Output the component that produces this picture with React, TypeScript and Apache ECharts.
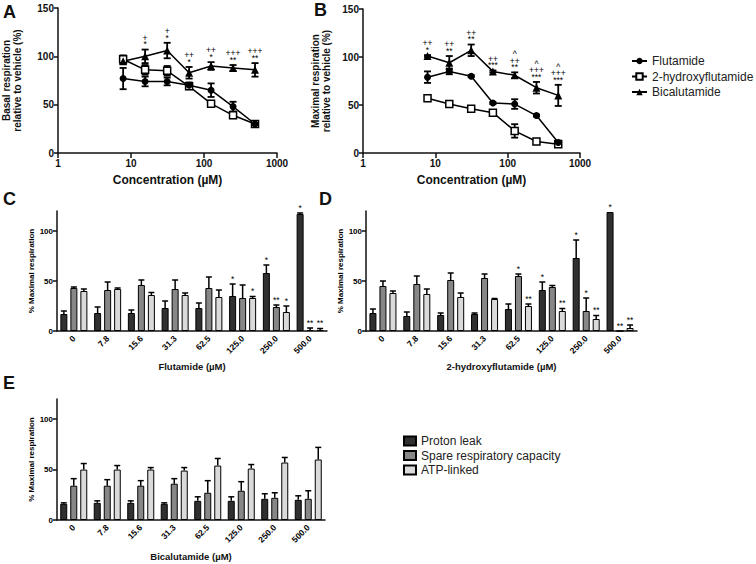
import React, { useEffect, useRef } from 'react';
import * as echarts from 'echarts';

const FONT = '"Liberation Sans", Arial, Helvetica, sans-serif';
const INK = '#111111';

// ---- Panels A / B: concentration-response ----
const concentrations = [7.8, 15.6, 31.3, 62.5, 125, 250, 500];
const drugNames = ['Flutamide', '2-hydroxyflutamide', 'Bicalutamide'];

const basalFlutamide = [77, 74, 74, 70, 65, 48, 30];
const basalFlutamideErr = [11, 5, 4, 3, 7, 5, 3];
const basalHydroxy = [97, 86, 85, 69, 51, 39, 30];
const basalHydroxyErr = [4, 5, 5, 3, 3, 3, 3];
const basalBical = [95, 100, 106, 83, 90, 88, 86];
const basalBicalErr = [3, 7, 8, 6, 4, 3, 7];
const basalMarks = ['', '+\n*', '+\n*', '++\n*', '++\n*', '+++\n**', '+++\n**'];

const maxFlutamide = [79, 85, 80, 52, 51, 39, 11];
const maxFlutamideErr = [6, 3, 1, 1, 5, 1, 2];
const maxHydroxy = [57, 51, 46, 42, 23, 12, 9];
const maxHydroxyErr = [3, 1, 3, 1, 7, 1, 1];
const maxBical = [101, 94, 107, 85, 81, 68, 60];
const maxBicalErr = [1, 7, 6, 1, 3, 6, 11];
const maxMarks = ['++\n*', '++\n**', '++\n**', '++\n***', '^\n++\n**', '^\n+++\n***', '^\n+++\n***'];

// ---- Panels C / D / E: bar charts ----
const doseLabels = ['0', '7.8', '15.6', '31.3', '62.5', '125.0', '250.0', '500.0'];
const componentNames = ['Proton leak', 'Spare respiratory capacity', 'ATP-linked'];

const flutPL = [17, 18, 18, 23, 23, 35, 58, 117];
const flutPLErr = [3, 6, 3, 7, 5, 12, 8, 1];
const flutSpare = [43, 41, 46, 42, 43, 33, 24, 1];
const flutSpareErr = [1, 8, 5, 9, 11, 13, 2, 2];
const flutATP = [40, 42, 36, 36, 34, 33, 19, 1];
const flutATPErr = [2, 1, 2.5, 2, 7, 1.5, 6, 1.5];
const flutPLMarks = ['', '', '', '', '', '*', '*', '*'];
const flutSpareMarks = ['', '', '', '', '', '', '**', '**'];
const flutATPMarks = ['', '', '', '', '', '*', '*', '**'];

const hydPL = [18, 15, 16, 17, 22, 41, 73, 119];
const hydPLErr = [4, 4, 2, 1, 5, 8, 18, 0];
const hydSpare = [45, 47, 51, 53, 55, 44, 20, 0];
const hydSpareErr = [5, 8, 7, 4, 2, 1.5, 13, 0];
const hydATP = [38, 37, 34, 32, 25, 20, 12, 3];
const hydATPErr = [2, 5, 4, 0.5, 2, 2.5, 3.5, 3];
const hydPLMarks = ['', '', '', '', '', '*', '*', '*'];
const hydSpareMarks = ['', '', '', '', '*', '', '*', '**'];
const hydATPMarks = ['', '', '', '', '**', '**', '**', '**'];

const bicPL = [16, 17, 17, 16, 19, 19, 21, 20];
const bicPLErr = [1, 2, 2, 1, 4, 4, 5, 4];
const bicSpare = [34, 34, 34, 36, 27, 29, 22, 21];
const bicSpareErr = [7, 6, 5, 5, 12, 9, 5, 8];
const bicATP = [50, 50, 50, 49, 54, 51, 57, 60];
const bicATPErr = [6, 4, 2, 3, 7, 4, 5, 12];
const noMarks = ['', '', '', '', '', '', '', ''];

const barColors = ['#303030', '#878787', '#dadada'];

function lineErrSeries(gx: number, vals: number[], errs: number[]) {
  return {
    type: 'custom',
    xAxisIndex: gx,
    yAxisIndex: gx,
    z: 3,
    silent: true,
    clip: false,
    data: concentrations.map((c, i) => [c, vals[i] - errs[i], vals[i] + errs[i]]),
    renderItem: (params: any, api: any) => {
      const x = api.value(0);
      const p1 = api.coord([x, api.value(1)]);
      const p2 = api.coord([x, api.value(2)]);
      const w = 3.5;
      const st = { stroke: '#000', lineWidth: 1.8 };
      return {
        type: 'group',
        children: [
          { type: 'line', shape: { x1: p1[0], y1: p1[1], x2: p2[0], y2: p2[1] }, style: st },
          { type: 'line', shape: { x1: p1[0] - w, y1: p1[1], x2: p1[0] + w, y2: p1[1] }, style: st },
          { type: 'line', shape: { x1: p2[0] - w, y1: p2[1], x2: p2[0] + w, y2: p2[1] }, style: st },
        ],
      };
    },
  };
}

function markSeries(gx: number, vals: number[], errs: number[], marks: string[]) {
  return {
    type: 'custom',
    xAxisIndex: gx,
    yAxisIndex: gx,
    z: 6,
    silent: true,
    clip: false,
    itemStyle: { color: '#000' },
    data: concentrations.map((c, i) => [c, vals[i] + errs[i], i]),
    renderItem: (params: any, api: any) => {
      const p = api.coord([api.value(0), api.value(1)]);
      const t = marks[params.dataIndex];
      if (!t) return null;
      return {
        type: 'text',
        x: p[0],
        y: p[1] - 2,
        style: {
          text: t,
          fontSize: 8.5,
          lineHeight: 6.5,
          fontFamily: FONT,
          fill: '#000',
          align: 'center',
          verticalAlign: 'bottom',
        },
      };
    },
  };
}

function lineSeries(gx: number, name: string, vals: number[], kind: number) {
  const symbol = kind === 0 ? 'circle' : kind === 1 ? 'rect' : 'triangle';
  return {
    type: 'line',
    name,
    xAxisIndex: gx,
    yAxisIndex: gx,
    z: 4,
    data: concentrations.map((c, i) => [c, vals[i]]),
    symbol,
    symbolSize: kind === 2 ? 8 : 7,
    showAllSymbol: true,
    lineStyle: { color: '#000', width: 1.5 },
    itemStyle:
      kind === 1
        ? { color: '#ffffff', borderColor: '#000', borderWidth: 1.5 }
        : { color: '#000', borderColor: '#000', borderWidth: 0 },
  };
}

function barSeries(gx: number, k: number, vals: number[]) {
  return {
    type: 'bar',
    name: componentNames[k],
    xAxisIndex: gx,
    yAxisIndex: gx,
    data: vals,
    barWidth: 7,
    barGap: '43%',
    z: 2,
    itemStyle: { color: barColors[k], borderColor: '#000', borderWidth: 1 },
  };
}

function barErrSeries(gx: number, offset: number, vals: number[], errs: number[], marks: string[]) {
  return {
    type: 'custom',
    xAxisIndex: gx,
    yAxisIndex: gx,
    z: 5,
    silent: true,
    clip: false,
    itemStyle: { color: '#000' },
    data: vals.map((v, i) => [i, v, errs[i]]),
    renderItem: (params: any, api: any) => {
      const i = api.value(0);
      const v = api.value(1);
      const e = api.value(2);
      const pb = api.coord([i, v]);
      const pt = api.coord([i, v + e]);
      const x = pb[0] + offset;
      const st = { stroke: '#000', lineWidth: 1.5 };
      const children: any[] = [];
      if (e > 0) {
        children.push({ type: 'line', shape: { x1: x, y1: pb[1], x2: x, y2: pt[1] }, style: st });
        children.push({ type: 'line', shape: { x1: x - 3, y1: pt[1], x2: x + 3, y2: pt[1] }, style: st });
      }
      const t = marks[params.dataIndex];
      if (t) {
        children.push({
          type: 'text',
          x,
          y: pt[1] - 1,
          style: {
            text: t,
            fontSize: 8.5,
            fontFamily: FONT,
            fill: '#000',
            align: 'center',
            verticalAlign: 'bottom',
          },
        });
      }
      return { type: 'group', children };
    },
  };
}

const axisLineStyle = { color: INK, width: 1.5 };

function logXAxis(gi: number) {
  return {
    type: 'log',
    logBase: 10,
    min: 1,
    max: 1000,
    gridIndex: gi,
    axisLine: { show: true, onZero: false, lineStyle: axisLineStyle },
    axisTick: { show: true, length: 5, lineStyle: axisLineStyle },
    minorTick: { show: false },
    splitLine: { show: false },
    axisLabel: {
      fontSize: 10,
      fontWeight: 'bold',
      color: INK,
      fontFamily: FONT,
      margin: 5,
      formatter: (v: number) => String(Math.round(v)),
    },
    name: 'Concentration (µM)',
    nameLocation: 'middle',
    nameGap: 21,
    nameTextStyle: { fontSize: 12, fontWeight: 'bold', color: INK, fontFamily: FONT },
  };
}

function pctYAxis(gi: number, name: string, gap: number) {
  return {
    type: 'value',
    min: 0,
    max: 150,
    interval: 50,
    gridIndex: gi,
    axisLine: { show: true, lineStyle: axisLineStyle },
    axisTick: { show: true, length: 4, lineStyle: axisLineStyle },
    splitLine: { show: false },
    axisLabel: { fontSize: 10, fontWeight: 'bold', color: INK, fontFamily: FONT, margin: 4 },
    name,
    nameLocation: 'middle',
    nameRotate: 90,
    nameGap: gap,
    nameTextStyle: { fontSize: 10, fontWeight: 'bold', color: INK, fontFamily: FONT, lineHeight: 11 },
  };
}

function catXAxis(gi: number, name: string, gap: number) {
  return {
    type: 'category',
    data: doseLabels,
    gridIndex: gi,
    axisLine: { show: true, lineStyle: axisLineStyle },
    axisTick: { show: false },
    splitLine: { show: false },
    axisLabel: {
      rotate: 45,
      fontSize: 8.5,
      fontWeight: 'bold',
      color: '#000',
      fontFamily: FONT,
      margin: 6,
      interval: 0,
    },
    name,
    nameLocation: 'middle',
    nameGap: gap,
    nameTextStyle: { fontSize: 9.5, fontWeight: 'bold', color: INK, fontFamily: FONT },
  };
}

function barYAxis(gi: number) {
  return {
    type: 'value',
    min: 0,
    max: 120,
    interval: 50,
    gridIndex: gi,
    axisLine: { show: true, lineStyle: axisLineStyle },
    axisTick: { show: true, length: 4, lineStyle: axisLineStyle, customValues: [0, 50, 100] },
    splitLine: { show: false },
    axisLabel: {
      fontSize: 8,
      fontWeight: 'bold',
      color: '#000',
      fontFamily: FONT,
      margin: 4,
      customValues: [0, 50, 100],
    },
    name: '% Maximal respiration',
    nameLocation: 'middle',
    nameRotate: 90,
    nameGap: 22,
    nameTextStyle: { fontSize: 8, fontWeight: 'bold', color: '#000', fontFamily: FONT },
  };
}

function letter(t: string, x: number, y: number) {
  return {
    type: 'text',
    left: x,
    top: y,
    style: { text: t, fontSize: 18, fontWeight: 'bold', fontFamily: FONT, fill: INK },
  };
}

function buildOption() {
  const series: any[] = [];
  // Panel A (hollow squares drawn first so the filled markers sit on top, as in the figure)
  series.push(lineErrSeries(0, basalHydroxy, basalHydroxyErr));
  series.push(lineErrSeries(0, basalFlutamide, basalFlutamideErr));
  series.push(lineErrSeries(0, basalBical, basalBicalErr));
  series.push(lineSeries(0, drugNames[1], basalHydroxy, 1));
  series.push(lineSeries(0, drugNames[0], basalFlutamide, 0));
  series.push(lineSeries(0, drugNames[2], basalBical, 2));
  series.push(markSeries(0, basalBical, basalBicalErr, basalMarks));
  // Panel B
  series.push(lineErrSeries(1, maxHydroxy, maxHydroxyErr));
  series.push(lineErrSeries(1, maxFlutamide, maxFlutamideErr));
  series.push(lineErrSeries(1, maxBical, maxBicalErr));
  series.push(lineSeries(1, drugNames[1], maxHydroxy, 1));
  series.push(lineSeries(1, drugNames[0], maxFlutamide, 0));
  series.push(lineSeries(1, drugNames[2], maxBical, 2));
  series.push(markSeries(1, maxBical, maxBicalErr, maxMarks));

  const barPanels = [
    { g: 2, v: [flutPL, flutSpare, flutATP], e: [flutPLErr, flutSpareErr, flutATPErr], m: [flutPLMarks, flutSpareMarks, flutATPMarks] },
    { g: 3, v: [hydPL, hydSpare, hydATP], e: [hydPLErr, hydSpareErr, hydATPErr], m: [hydPLMarks, hydSpareMarks, hydATPMarks] },
    { g: 4, v: [bicPL, bicSpare, bicATP], e: [bicPLErr, bicSpareErr, bicATPErr], m: [noMarks, noMarks, noMarks] },
  ];
  const offsets = [-10, 0, 10];
  barPanels.forEach((p) => {
    for (let k = 0; k < 3; k++) series.push(barSeries(p.g, k, p.v[k]));
    for (let k = 0; k < 3; k++) series.push(barErrSeries(p.g, offsets[k], p.v[k], p.e[k], p.m[k]));
  });

  return {
    animation: false,
    backgroundColor: '#ffffff',
    textStyle: { fontFamily: FONT },
    grid: [
      { left: 58, top: 8, width: 219, height: 145 },
      { left: 363, top: 9, width: 217, height: 144 },
      { left: 57, top: 211, width: 270, height: 120 },
      { left: 366, top: 211, width: 271, height: 120 },
      { left: 57, top: 399, width: 268, height: 121 },
    ],
    xAxis: [
      logXAxis(0),
      logXAxis(1),
      catXAxis(2, 'Flutamide (µM)', 30),
      catXAxis(3, '2-hydroxyflutamide (µM)', 30),
      catXAxis(4, 'Bicalutamide (µM)', 31),
    ],
    yAxis: [
      pctYAxis(0, 'Basal respiration\nrelative to vehicle (%)', 35),
      pctYAxis(1, 'Maximal respiration\nrelative to vehicle (%)', 31),
      barYAxis(2),
      barYAxis(3),
      barYAxis(4),
    ],
    legend: [
      {
        data: drugNames,
        orient: 'vertical',
        left: 631,
        top: 55,
        padding: 0,
        itemWidth: 15,
        itemHeight: 8,
        itemGap: 3.5,
        selectedMode: false,
        textStyle: { fontSize: 12, color: '#222', fontFamily: FONT },
      },
      {
        data: componentNames,
        orient: 'vertical',
        left: 403,
        top: 435,
        padding: 0,
        icon: 'rect',
        itemWidth: 12,
        itemHeight: 9,
        itemGap: 2.5,
        selectedMode: false,
        textStyle: { fontSize: 12, color: '#222', fontFamily: FONT },
      },
    ],
    graphic: [
      letter('A', 3, 3),
      letter('B', 314, 1),
      letter('C', 3, 190),
      letter('D', 319, 190),
      letter('E', 3, 374),
    ],
    series,
  };
}

export default function App() {
  const ref = useRef<HTMLDivElement>(null);
  useEffect(() => {
    document.body.style.margin = '0';
    if (!ref.current) return;
    const chart = echarts.init(ref.current, undefined, { renderer: 'svg' });
    chart.setOption(buildOption() as any);
    return () => chart.dispose();
  }, []);
  return <div ref={ref} style={{ width: 756, height: 564, background: '#fff' }} />;
}
